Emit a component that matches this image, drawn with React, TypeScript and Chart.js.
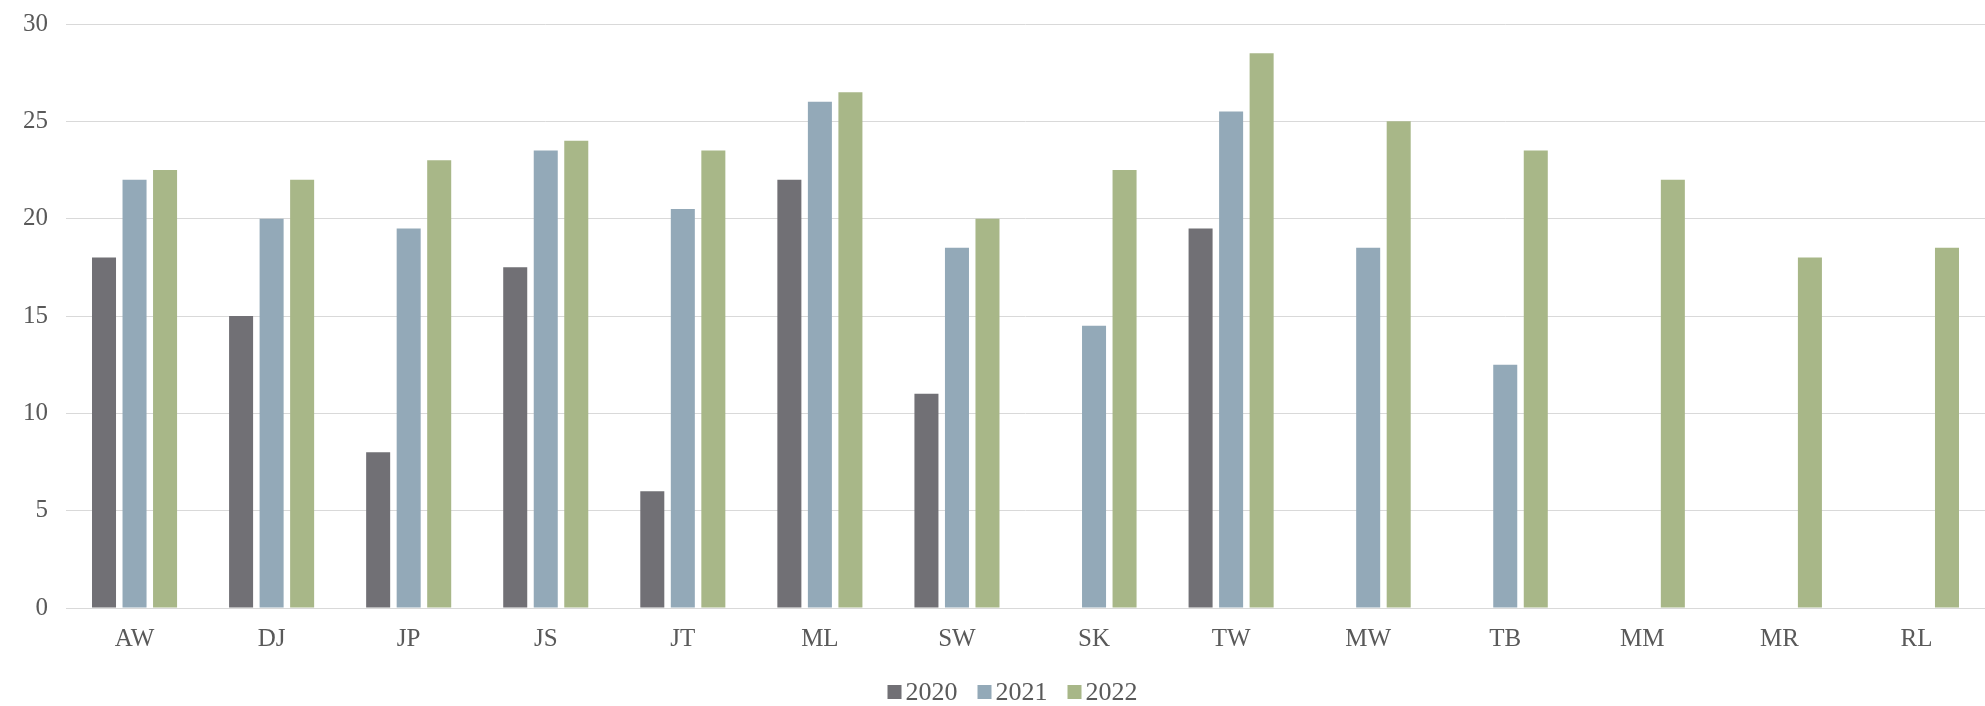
import React, { useEffect, useRef } from "react";
import { Chart, registerables } from "chart.js";

Chart.register(...registerables);

const categories = ["AW", "DJ", "JP", "JS", "JT", "ML", "SW", "SK", "TW", "MW", "TB", "MM", "MR", "RL"];
const series2020: (number | null)[] = [18, 15, 8, 17.5, 6, 22, 11, null, 19.5, null, null, null, null, null];
const series2021: (number | null)[] = [22, 20, 19.5, 23.5, 20.5, 26, 18.5, 14.5, 25.5, 18.5, 12.5, null, null, null];
const series2022: (number | null)[] = [22.5, 22, 23, 24, 23.5, 26.5, 20, 22.5, 28.5, 25, 23.5, 22, 18, 18.5];
const yTicks = [0, 5, 10, 15, 20, 25, 30];

const FONT = "'Liberation Serif', 'DejaVu Serif', serif";
const TEXT = "#595959";
const GRID = "#d9d9d9";

// The canvas is a little taller than the frame and shifted up so the
// top gridline and the legend sit close to the frame edges.
const FRAME_W = 1985;
const FRAME_H = 706;
const CANVAS_TOP = -9;
const CANVAS_H = 724;

// Legend row under the x axis: square swatch, tight gap, label.
const LEGEND_SPACE = 45;
const LEGEND_BOX = 14;
const LEGEND_TEXT_GAP = 4;
const LEGEND_ITEM_GAP = 20;
const LEGEND_FONT_SIZE = 26;
const LEGEND_SHIFT = 20;

const bottomLegend = {
  id: "bottomLegend",
  afterDraw(chart: any) {
    const ctx: CanvasRenderingContext2D = chart.ctx;
    ctx.save();
    ctx.font = `${LEGEND_FONT_SIZE}px ${FONT}`;
    ctx.textBaseline = "middle";
    ctx.textAlign = "left";
    const items = chart.data.datasets.map((ds: any) => ({
      label: String(ds.label),
      color: ds.backgroundColor as string,
      width: ctx.measureText(String(ds.label)).width,
    }));
    const total =
      items.reduce((s: number, it: any) => s + LEGEND_BOX + LEGEND_TEXT_GAP + it.width, 0) +
      LEGEND_ITEM_GAP * (items.length - 1);
    let x = chart.width / 2 + LEGEND_SHIFT - total / 2;
    const y = chart.height - 23;
    for (const it of items) {
      ctx.fillStyle = it.color;
      ctx.fillRect(x, y - LEGEND_BOX / 2, LEGEND_BOX, LEGEND_BOX);
      x += LEGEND_BOX + LEGEND_TEXT_GAP;
      ctx.fillStyle = TEXT;
      ctx.fillText(it.label, x, y + 1);
      x += it.width + LEGEND_ITEM_GAP;
    }
    ctx.restore();
  },
};

export default function App() {
  const canvasRef = useRef<HTMLCanvasElement | null>(null);

  useEffect(() => {
    const canvas = canvasRef.current;
    if (!canvas) return;
    const chart = new Chart(canvas, {
      type: "bar",
      data: {
        labels: categories,
        datasets: [
          { label: "2020", data: series2020, backgroundColor: "#717075" },
          { label: "2021", data: series2021, backgroundColor: "#93a9b8" },
          { label: "2022", data: series2022, backgroundColor: "#a8b788" },
        ],
      },
      options: {
        responsive: false,
        animation: false,
        devicePixelRatio: 1,
        datasets: {
          bar: { categoryPercentage: 0.668, barPercentage: 0.787 },
        },
        layout: { padding: { left: 5, right: 0, top: 0, bottom: LEGEND_SPACE } },
        plugins: {
          tooltip: { enabled: false },
          legend: { display: false },
        },
        scales: {
          x: {
            grid: { display: false, drawTicks: false },
            border: { display: true, color: GRID, width: 1 },
            ticks: { color: TEXT, font: { family: FONT, size: 25 }, padding: 16 },
          },
          y: {
            min: 0,
            max: 30,
            afterBuildTicks: (axis: any) => {
              axis.ticks = yTicks.map((v) => ({ value: v }));
            },
            grid: { color: GRID, lineWidth: 1, drawTicks: false },
            border: { display: false },
            ticks: { color: TEXT, font: { family: FONT, size: 25 }, padding: 18 },
          },
        },
      },
      plugins: [bottomLegend],
    });
    return () => chart.destroy();
  }, []);

  return (
    <div
      style={{
        position: "absolute",
        left: 0,
        top: 0,
        width: FRAME_W,
        height: FRAME_H,
        overflow: "hidden",
        background: "#ffffff",
      }}
    >
      <canvas
        ref={canvasRef}
        width={FRAME_W}
        height={CANVAS_H}
        style={{ display: "block", position: "absolute", left: 0, top: CANVAS_TOP }}
      />
    </div>
  );
}
